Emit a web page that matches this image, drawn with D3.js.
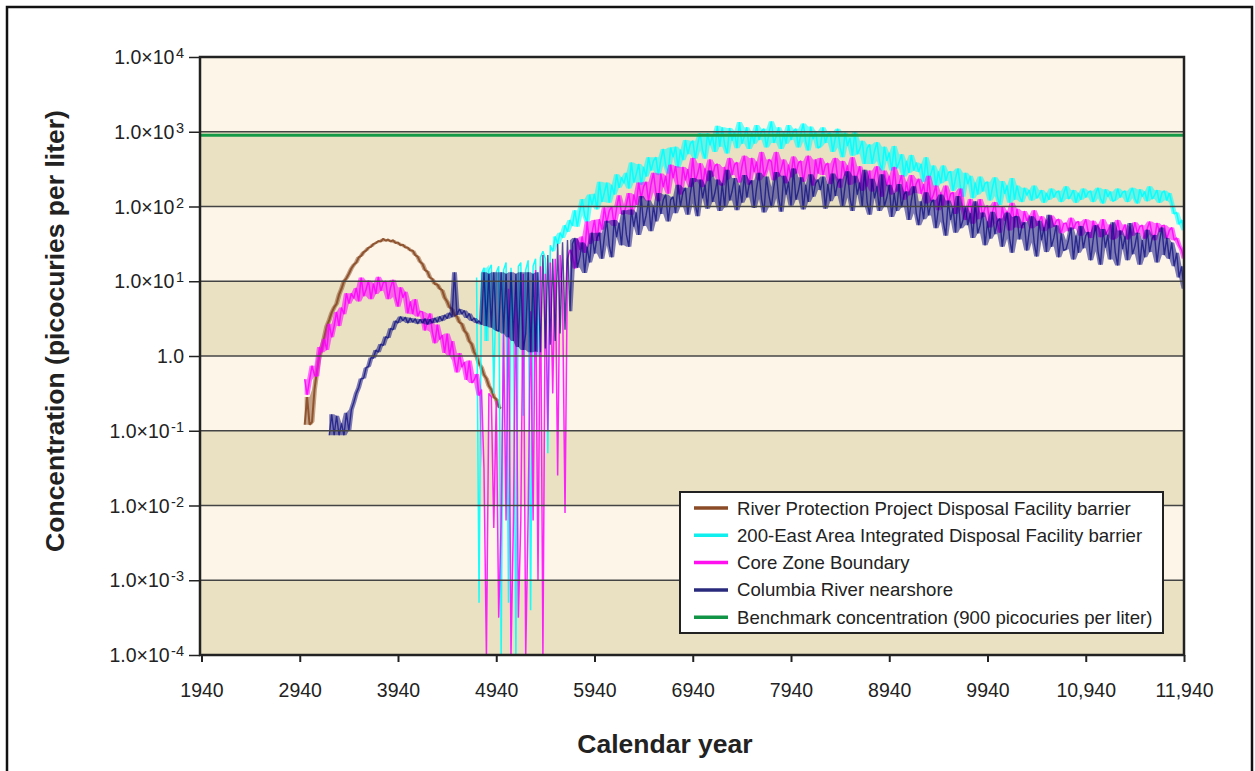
<!DOCTYPE html>
<html><head><meta charset="utf-8">
<script src="https://cdn.jsdelivr.net/npm/d3@7"></script>
<style>
body{margin:0;background:#fff;}
svg text{font-family:"Liberation Sans",Arial,Helvetica,sans-serif;fill:#222;}
</style>
</head><body>
<svg id="chart" width="1255" height="771"></svg>
<script>
// ---------- data: log10 of concentration (picocuries per liter), one value every 25 years ----------
const yearStep = 25;

const rppStart = 2990;
const rppLog10 = [
  -0.92,-0.55,-0.92,-0.88,-0.45,-0.2,0.0,0.1,0.25,0.4,
  0.48,0.58,0.65,0.7,0.82,0.9,1.0,1.04,1.1,1.17,
  1.22,1.25,1.32,1.34,1.39,1.41,1.45,1.46,1.5,1.51,
  1.54,1.53,1.57,1.54,1.56,1.53,1.55,1.51,1.52,1.48,
  1.49,1.45,1.45,1.41,1.41,1.35,1.33,1.26,1.23,1.15,
  1.13,1.05,1.03,0.96,0.96,0.9,0.88,0.78,0.73,0.65,
  0.63,0.55,0.53,0.45,0.43,0.34,0.3,0.2,0.16,0.05,
  0.0,-0.1,-0.15,-0.25,-0.3,-0.4,-0.45,-0.55,-0.58,-0.68,
  -0.7];

const idfStart = 4740;
const idfLog10 = [
  1.05,-3.3,1.1,1.18,0.2,1.15,1.22,-0.5,1.12,1.2,
  -4.0,1.15,1.25,-3.3,1.18,0.5,-4.0,1.2,1.25,-0.8,
  1.15,1.28,-3.4,1.2,1.3,0.0,1.32,1.4,1.3,-1.3,
  1.48,1.4,1.6,1.5,1.65,1.58,1.75,1.66,1.82,1.74,
  1.95,1.73,1.93,2.10,1.88,1.79,2.16,2.02,2.17,1.96,2.33,2.06,2.18,2.32,2.05,2.29,2.16,2.43,2.25,2.39,
  2.31,2.45,2.24,2.59,2.32,2.43,2.57,2.29,2.53,2.40,2.66,2.48,2.61,2.66,2.42,2.62,2.77,2.55,2.44,2.79,
  2.66,2.80,2.52,2.76,2.62,2.89,2.70,2.84,2.88,2.64,2.83,2.98,2.75,2.64,2.98,2.82,2.95,2.73,3.08,2.80,
  3.06,2.83,2.71,3.05,2.88,3.01,2.78,3.13,2.84,2.94,3.06,2.77,2.99,2.84,3.09,2.89,3.01,3.04,2.79,2.97,
  3.14,2.85,2.94,3.06,2.77,2.99,2.84,3.09,2.89,3.01,3.04,2.79,2.97,3.11,2.87,2.75,3.07,2.90,3.01,2.78,
  2.81,3.06,2.85,2.97,2.99,2.73,2.91,3.04,2.79,2.66,2.99,2.81,2.92,2.68,3.00,2.70,2.77,2.88,2.57,2.78,
  2.83,2.57,2.74,2.86,2.61,2.48,2.80,2.61,2.72,2.48,2.81,2.51,2.59,2.70,2.40,2.61,2.45,2.69,2.48,2.59,
  2.46,2.57,2.33,2.66,2.36,2.44,2.55,2.26,2.47,2.31,2.55,2.34,2.45,2.47,2.21,2.38,2.51,2.26,2.13,2.45,
  2.30,2.41,2.11,2.32,2.16,2.40,2.20,2.31,2.33,2.08,2.25,2.39,2.14,2.02,2.34,2.17,2.28,2.05,2.38,2.09,
  2.28,2.14,2.06,2.25,2.15,2.22,2.08,2.28,2.11,2.16,2.22,2.05,2.18,2.09,2.24,2.12,2.19,2.21,2.06,2.17,
  2.27,2.10,2.15,2.22,2.05,2.18,2.09,2.24,2.12,2.19,2.21,2.06,2.17,2.25,2.11,2.04,2.23,2.13,2.20,2.07,
  2.09,2.24,2.12,2.19,2.21,2.06,2.17,2.25,2.11,2.04,2.23,2.13,2.20,2.07,2.27,2.10,2.15,2.22,2.05,2.18,
  2.21,2.08,2.18,2.05,1.90,1.92,1.76,1.82,1.68];

const coreStart = 2990;
const coreLog10 = [
  -0.31,-0.52,-0.32,-0.13,-0.26,-0.27,0.12,0.05,0.23,0.08,0.43,0.25,0.40,0.59,0.40,0.65,0.56,0.84,0.70,0.84,
  0.77,0.91,0.73,1.05,0.80,0.89,1.01,0.76,0.97,0.83,1.06,0.87,0.98,1.00,0.76,0.92,1.02,0.79,0.66,0.92,
  0.78,0.86,0.57,0.73,0.56,0.76,0.53,0.60,0.59,0.34,0.48,0.57,0.32,0.17,0.42,0.22,0.28,0.04,0.30,0.00,
  0.20,-0.06,-0.22,0.04,-0.15,-0.08,-0.32,-0.06,-0.36,-0.32,-0.24,-0.53,
  -0.45,-1.5,-4.0,-0.5,-0.55,-2.3,-0.6,-3.5,-2.2,0.3,
  -2.2,0.9,-4.0,-2.2,1.0,-3.5,-2.2,1.1,-4.0,-2.1,
  0.6,-2.2,1.15,-3.0,1.2,-4.0,1.1,-1.0,1.25,-0.5,
  1.3,-1.6,1.35,0.8,-2.1,1.3,1.42,1.35,
  1.17,1.57,1.42,1.60,1.38,1.80,1.50,1.65,1.82,1.54,1.83,1.69,1.99,1.78,1.94,2.00,1.74,1.98,2.15,1.90,
  1.90,2.03,2.18,1.89,2.16,2.02,2.32,2.11,2.27,2.33,2.07,2.29,2.45,2.19,2.07,2.44,2.26,2.41,2.17,2.56,
  2.38,2.54,2.28,2.16,2.53,2.35,2.50,2.26,2.65,2.33,2.44,2.58,2.26,2.51,2.34,2.63,2.40,2.54,2.57,2.30,
  2.28,2.53,2.36,2.65,2.42,2.56,2.59,2.32,2.53,2.68,2.41,2.29,2.65,2.46,2.60,2.35,2.73,2.40,2.50,2.63,
  2.60,2.35,2.73,2.40,2.50,2.63,2.31,2.56,2.39,2.67,2.44,2.58,2.61,2.33,2.53,2.68,2.41,2.28,2.63,2.44,
  2.65,2.42,2.55,2.58,2.30,2.51,2.65,2.38,2.25,2.61,2.41,2.55,2.29,2.66,2.32,2.42,2.54,2.21,2.45,2.27,
  2.48,2.20,2.40,2.54,2.26,2.13,2.48,2.28,2.41,2.16,2.53,2.20,2.30,2.42,2.09,2.33,2.15,2.42,2.18,2.31,
  2.37,2.17,2.30,2.04,2.41,2.07,2.16,2.28,1.95,2.19,2.01,2.28,2.04,2.17,2.19,1.90,2.10,2.24,1.96,1.82,
  1.98,2.10,1.77,2.01,1.83,2.10,1.86,1.99,2.01,1.72,1.92,2.06,1.78,1.65,2.00,1.81,1.94,1.68,2.05,1.72,
  1.97,1.80,1.71,1.94,1.81,1.88,1.71,1.95,1.74,1.80,1.87,1.67,1.82,1.71,1.88,1.73,1.81,1.83,1.64,1.77,
  1.78,1.67,1.85,1.70,1.78,1.80,1.61,1.74,1.83,1.66,1.58,1.81,1.68,1.76,1.59,1.83,1.62,1.68,1.76,1.56,
  1.58,1.82,1.62,1.68,1.76,1.56,1.72,1.61,1.79,1.64,1.73,1.75,1.57,1.70,1.80,1.63,1.55,1.78,1.66,1.74,
  1.75,1.57,1.68,1.72,1.55,1.58,1.48,1.42,1.30];

const riverStart = 3240;
const riverLog10 = [
  -1.06,-0.78,-1.06,-0.8,-1.06,-0.9,-1.06,-0.76,-1.0,-0.72,-0.62,-0.5,-0.42,-0.3,-0.3,-0.16,-0.14,-0.02,-0.03,0.08,
  0.05,0.16,0.14,0.26,0.24,0.37,0.35,0.47,0.44,0.53,0.47,0.52,0.44,0.51,0.45,0.50,0.43,0.49,0.44,0.50,
  0.42,0.49,0.44,0.51,0.45,0.53,0.47,0.55,0.50,0.58,0.52,1.12,0.55,0.63,0.56,0.61,0.51,0.57,0.47,0.51,
  0.44,0.47,
  0.42,1.12,0.4,1.1,0.38,1.12,0.35,0.33,1.12,0.3,
  1.1,0.25,1.12,0.2,1.1,0.12,1.12,0.08,0.3,1.12,
  0.05,1.1,0.06,1.12,0.05,1.35,0.1,1.35,0.15,1.3,
  0.2,1.5,0.3,1.52,0.35,1.55,0.6,1.5,
  1.58,1.18,1.32,1.52,1.11,1.46,1.25,1.65,1.37,1.58,1.65,1.30,1.59,1.81,1.48,1.32,1.82,1.59,1.78,1.48,
  1.95,1.62,1.46,1.96,1.73,1.92,1.62,2.14,1.74,1.88,2.08,1.67,2.01,1.80,2.18,1.90,2.09,2.16,1.80,2.09,
  2.13,1.91,2.29,2.00,2.19,2.25,1.89,2.17,2.38,2.04,1.87,2.36,2.11,2.29,1.97,2.48,2.06,2.18,2.36,1.94,
  2.31,1.99,2.49,2.08,2.20,2.38,1.95,2.28,2.05,2.42,2.12,2.30,2.35,1.98,2.25,2.45,2.10,1.92,2.40,2.15,
  1.99,2.26,2.46,2.11,1.93,2.41,2.16,2.33,2.01,2.51,2.09,2.21,2.39,1.96,2.29,2.06,2.43,2.13,2.31,2.36,
  2.22,2.40,1.97,2.30,2.07,2.44,2.14,2.32,2.37,2.00,2.27,2.47,2.12,1.94,2.41,2.16,2.32,2.00,2.49,2.06,
  1.89,2.37,2.11,2.27,1.94,2.43,2.00,2.12,2.29,1.86,2.18,1.94,2.30,1.99,2.16,2.20,1.82,2.08,2.27,1.91,
  1.75,2.07,1.83,2.19,1.88,2.05,2.09,1.71,1.97,2.16,1.80,1.61,2.08,1.82,1.98,1.65,2.14,1.71,1.82,1.99,
  1.75,1.91,1.58,2.07,1.64,1.75,1.92,1.48,1.80,1.57,1.93,1.63,1.80,1.84,1.46,1.73,1.92,1.57,1.38,1.86,
  1.87,1.56,1.74,1.79,1.41,1.67,1.87,1.52,1.33,1.81,1.55,1.72,1.39,1.89,1.46,1.58,1.75,1.32,1.64,1.41,
  1.43,1.55,1.72,1.29,1.61,1.38,1.74,1.44,1.61,1.66,1.28,1.55,1.75,1.40,1.22,1.70,1.45,1.62,1.29,1.79,
  1.39,1.21,1.68,1.43,1.60,1.28,1.78,1.36,1.47,1.65,1.22,1.55,1.32,1.69,1.39,1.57,1.62,1.25,1.52,1.72,
  1.35,1.58,1.30,1.52,1.20,1.38,1.05,1.20,0.90];

const benchmarkValue = 900;

const seriesNames = [
  "River Protection Project Disposal Facility barrier",
  "200-East Area Integrated Disposal Facility barrier",
  "Core Zone Boundary",
  "Columbia River nearshore",
  "Benchmark concentration (900 picocuries per liter)"
];
const xTickYears = [1940,2940,3940,4940,5940,6940,7940,8940,9940,10940,11940];
const xTickLabels = ["1940","2940","3940","4940","5940","6940","7940","8940","9940","10,940","11,940"];
const yTickExponents = [4,3,2,1,0,-1,-2,-3,-4];

// ---------- layout ----------
const PL = 200, PR = 1184, PT = 57, PB = 655;
const svg = d3.select("#chart");

const x = d3.scaleLinear().domain([1940, 11940]).range([PL + 1.5, PR]);
const y = d3.scaleLog().domain([1e-4, 1e4]).range([PB, PT]).clamp(true);

// outer frame
svg.append("rect").attr("x", 7).attr("y", 7).attr("width", 1245).attr("height", 800)
  .attr("fill", "#fff").attr("stroke", "#111").attr("stroke-width", 2.5);

// decade bands
const bandExps = d3.range(-4, 4);
svg.append("g").selectAll("rect").data(bandExps).join("rect")
  .attr("x", PL).attr("width", PR - PL)
  .attr("y", d => y(Math.pow(10, d + 1)))
  .attr("height", d => y(Math.pow(10, d)) - y(Math.pow(10, d + 1)))
  .attr("fill", d => (Math.abs(d) % 2 === 1) ? "#fdf6e8" : "#e9e1c2");

// series
const defs = svg.append("defs");
defs.append("clipPath").attr("id", "plotclip").append("rect")
  .attr("x", PL).attr("y", PT).attr("width", PR - PL).attr("height", PB - PT);

const series = [
  {start: rppStart, values: rppLog10, color: "#8a4b26", op: 0.9, fop: 0.5, w: 2},
  {start: idfStart, values: idfLog10, color: "#00ffff", op: 0.9, fop: 0.55, w: 1.5},
  {start: coreStart, values: coreLog10, color: "#ff00ff", op: 0.85, fop: 0.55, w: 1.5},
  {start: riverStart, values: riverLog10, color: "#0a0a80", op: 0.72, fop: 0.52, w: 1.4}
];
const line = d3.line().x(d => x(d.year)).y(d => y(d.value));
const gData = svg.append("g").attr("clip-path", "url(#plotclip)");
series.forEach(s => {
  const pts = s.values.map((v, i) => ({year: s.start + i * yearStep, value: Math.pow(10, v)}));
  // envelope of neighbouring samples (fills the dense scatter of the model output)
  const env = s.values.map((v, i) => {
    const w = s.values.slice(Math.max(0, i - 1), i + 2);
    return {year: s.start + i * yearStep, lo: d3.min(w), hi: d3.max(w)};
  });
  const area = d3.area().defined(d => d.hi - d.lo < 1.2)
    .x(d => x(d.year)).y0(d => y(Math.pow(10, d.lo))).y1(d => y(Math.pow(10, d.hi)));
  gData.append("path").datum(env).attr("d", area)
    .attr("fill", s.color).attr("fill-opacity", s.fop).attr("stroke", "none");
  gData.append("path").datum(pts)
    .attr("d", line).attr("fill", "none")
    .attr("stroke", s.color).attr("stroke-opacity", s.op)
    .attr("stroke-width", s.w).attr("stroke-linejoin", "bevel");
});

// gridlines
svg.append("g").selectAll("line").data(yTickExponents.filter(e => e > -4 && e < 4)).join("line")
  .attr("x1", PL).attr("x2", PR)
  .attr("y1", d => y(Math.pow(10, d))).attr("y2", d => y(Math.pow(10, d)))
  .attr("stroke", "#444").attr("stroke-width", 1.6);

// benchmark
svg.append("line").attr("x1", PL).attr("x2", PR)
  .attr("y1", y(benchmarkValue)).attr("y2", y(benchmarkValue))
  .attr("stroke", "#159a48").attr("stroke-width", 3);

// plot border
svg.append("rect").attr("x", PL).attr("y", PT).attr("width", PR - PL).attr("height", PB - PT)
  .attr("fill", "none").attr("stroke", "#222").attr("stroke-width", 2.5);

// y axis
const yAxis = d3.axisLeft(y).tickValues(yTickExponents.map(e => Math.pow(10, e)))
  .tickSize(11).tickFormat("");
const gy = svg.append("g").attr("transform", `translate(${PL},0)`).call(yAxis);
gy.select(".domain").remove();
gy.selectAll(".tick line").attr("stroke", "#222").attr("stroke-width", 1.5);
const yl = svg.append("g");
yTickExponents.forEach(e => {
  const t = yl.append("text").attr("x", 184).attr("y", y(Math.pow(10, e)))
    .attr("dy", "0.36em").attr("text-anchor", "end").attr("font-size", 19.5);
  if (e === 0) { t.text("1.0"); }
  else {
    t.append("tspan").text("1.0\u00d710");
    t.append("tspan").attr("font-size", 14.5).attr("dx", 1.5).attr("dy", -6).text(String(e));
  }
});

// x axis
const xAxis = d3.axisBottom(x).tickValues(xTickYears).tickSize(7)
  .tickFormat((d, i) => xTickLabels[i]);
const gx = svg.append("g").attr("transform", `translate(0,${PB})`).call(xAxis);
gx.select(".domain").remove();
gx.selectAll(".tick line").attr("stroke", "#222").attr("stroke-width", 2);
gx.selectAll(".tick text").attr("font-size", 19.5).attr("y", 28)
  .style("font-family", '"Liberation Sans",Arial,sans-serif').attr("fill", "#222");

// titles
svg.append("text").attr("x", 665).attr("y", 753).attr("text-anchor", "middle")
  .attr("font-size", 26.5).attr("font-weight", "bold").text("Calendar year");
svg.append("text").attr("transform", "translate(64,331) rotate(-90)")
  .attr("text-anchor", "middle").attr("font-size", 26.5).attr("font-weight", "bold")
  .text("Concentration (picocuries per liter)");

// legend
const legColors = ["#8a4b26", "#10eeee", "#ff10ee", "#2a2a7c", "#119446"];
const lg = svg.append("g");
lg.append("rect").attr("x", 680).attr("y", 492).attr("width", 483).attr("height", 141)
  .attr("fill", "#fff").attr("stroke", "#222").attr("stroke-width", 2);
seriesNames.forEach((n, i) => {
  const cy = 508 + i * 27.3;
  lg.append("line").attr("x1", 694).attr("x2", 728).attr("y1", cy).attr("y2", cy)
    .attr("stroke", legColors[i]).attr("stroke-width", 3.5);
  lg.append("text").attr("x", 737).attr("y", cy).attr("dy", "0.35em")
    .attr("font-size", 18.6).text(n);
});
</script>
</body></html>
